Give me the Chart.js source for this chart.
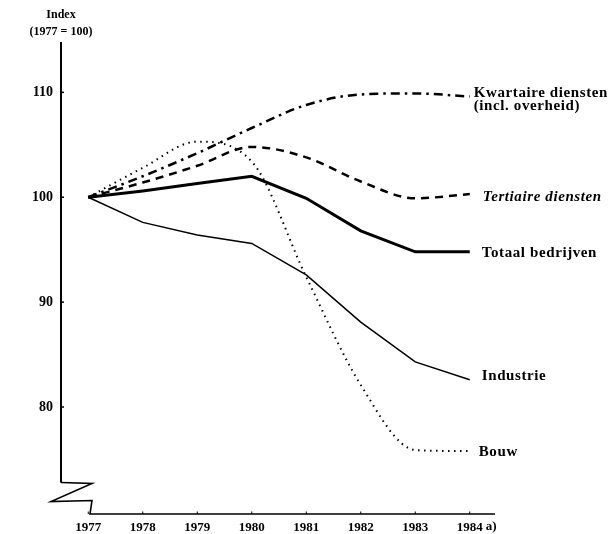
<!DOCTYPE html>
<html>
<head>
<meta charset="utf-8">
<script src="https://cdn.jsdelivr.net/npm/chart.js@4"></script>
<style>
  body { margin: 0; background: #fff; }
  #wrap { width: 613px; height: 534px; }
</style>
</head>
<body>
<div id="wrap"><canvas id="indexChart" width="613" height="534"></canvas></div>
<script>
// Index (1977 = 100) per sector
const years = [1977, 1978, 1979, 1980, 1981, 1982, 1983, 1984];
const yearLabels = ['1977', '1978', '1979', '1980', '1981', '1982', '1983', '1984'];
const yTicks = [80, 90, 100, 110];

const kwartaire = [100, 102.0, 104.2, 106.6, 108.8, 109.8, 109.9, 109.6];
const tertiaire = [100, 101.4, 103.0, 104.8, 103.8, 101.5, 99.9, 100.3];
const totaal = [100, 100.6, 101.3, 102.0, 99.9, 96.8, 94.8, 94.8];
const industrie = [100, 97.6, 96.4, 95.6, 92.6, 88.1, 84.3, 82.6];
const bouw = [100, 102.8, 105.3, 103.4, 92.4, 82.1, 75.9, 75.8];

const seriesNames = [
    ['Kwartaire diensten', '(incl. overheid)'],
    ['Tertiaire diensten'],
    ['Totaal bedrijven'],
    ['Industrie'],
    ['Bouw']
];

const FONT = '"Liberation Serif", "DejaVu Serif", serif';

function toPoints(values) {
    return values.map((v, i) => ({ x: years[i], y: v }));
}

// label placement next to the end of each line
const labelStyle = [
    { dx: 4, dy: -3, italic: false },
    { dx: 13, dy: 3, italic: true },
    { dx: 12, dy: 1, italic: false },
    { dx: 12, dy: -4, italic: false },
    { dx: 9, dy: 1, italic: false }
];

const axisPlugin = {
    id: 'axisPlugin',
    afterDraw(chart) {
        const ctx = chart.ctx;
        const xs = chart.scales.x;
        const ys = chart.scales.y;
        const area = chart.chartArea;
        const left = area.left;
        const bottom = area.bottom;
        const breakTop = ys.getPixelForValue(72.8);

        ctx.save();
        ctx.strokeStyle = '#000';
        ctx.lineJoin = 'miter';

        // y axis with break symbol
        ctx.lineWidth = 2;
        ctx.beginPath();
        ctx.moveTo(left, area.top);
        ctx.lineTo(left, breakTop);
        ctx.stroke();

        ctx.lineWidth = 1.6;
        ctx.beginPath();
        ctx.moveTo(left, breakTop);
        ctx.lineTo(left + 31, breakTop + 1);
        ctx.lineTo(left - 10, breakTop + 19);
        ctx.lineTo(left + 31, breakTop + 18);
        ctx.lineTo(left + 29, bottom);
        ctx.lineTo(area.right - 2, bottom);
        ctx.stroke();

        // y ticks
        ctx.lineWidth = 1.5;
        yTicks.forEach(t => {
            const py = ys.getPixelForValue(t);
            ctx.beginPath();
            ctx.moveTo(left, py);
            ctx.lineTo(left + 3, py);
            ctx.stroke();
        });

        // x ticks
        ctx.lineWidth = 1;
        years.forEach(yr => {
            const px = xs.getPixelForValue(yr);
            ctx.beginPath();
            ctx.moveTo(px, bottom);
            ctx.lineTo(px, bottom - 2.5);
            ctx.stroke();
        });

        // footnote marker after 1984
        ctx.fillStyle = '#000';
        ctx.font = 'bold 13px ' + FONT;
        ctx.textBaseline = 'middle';
        ctx.textAlign = 'left';
        const lastX = xs.getPixelForValue(years[years.length - 1]);
        const w = ctx.measureText(yearLabels[yearLabels.length - 1]).width;
        ctx.fillText('a)', lastX + w / 2 + 3, bottom + 13);

        // axis title
        ctx.textAlign = 'center';
        ctx.font = 'bold 12px ' + FONT;
        ctx.fillText('Index', left, 15);
        ctx.fillText('(1977 = 100)', left, 32);

        // series labels at the line ends
        ctx.letterSpacing = '0.6px';
        chart.data.datasets.forEach((ds, i) => {
            const meta = chart.getDatasetMeta(i);
            const pt = meta.data[meta.data.length - 1];
            const st = labelStyle[i];
            ctx.font = (st.italic ? 'italic ' : '') + 'bold 15px ' + FONT;
            ctx.textAlign = 'left';
            seriesNames[i].forEach((line, j) => {
                ctx.fillText(line, pt.x + st.dx, pt.y + st.dy + j * 13);
            });
        });
        ctx.restore();
    }
};

new Chart(document.getElementById('indexChart'), {
    type: 'line',
    data: {
        datasets: [
            {
                label: seriesNames[0].join(' '),
                data: toPoints(kwartaire),
                borderColor: '#000',
                borderWidth: 2.5,
                borderDash: [9, 5, 2.5, 5],
                cubicInterpolationMode: 'monotone'
            },
            {
                label: seriesNames[1][0],
                data: toPoints(tertiaire),
                borderColor: '#000',
                borderWidth: 2.5,
                borderDash: [8, 6],
                cubicInterpolationMode: 'monotone'
            },
            {
                label: seriesNames[2][0],
                data: toPoints(totaal),
                borderColor: '#000',
                borderWidth: 3,
                tension: 0
            },
            {
                label: seriesNames[3][0],
                data: toPoints(industrie),
                borderColor: '#000',
                borderWidth: 1.5,
                tension: 0
            },
            {
                label: seriesNames[4][0],
                data: toPoints(bouw),
                borderColor: '#000',
                borderWidth: 2,
                borderDash: [1.5, 4.5],
                cubicInterpolationMode: 'monotone'
            }
        ]
    },
    options: {
        responsive: false,
        animation: false,
        layout: { padding: { top: 42, right: 116, left: 0, bottom: 0 } },
        elements: { point: { radius: 0 } },
        plugins: {
            legend: { display: false },
            tooltip: { enabled: false }
        },
        scales: {
            x: {
                type: 'linear',
                min: 1976.5,
                max: 1984.5,
                afterFit: scale => { scale.height = 20; },
                afterBuildTicks: scale => { scale.ticks = years.map(v => ({ value: v })); },
                grid: { display: false, drawTicks: false },
                border: { display: false },
                ticks: {
                    padding: 6,
                    maxRotation: 0,
                    autoSkip: false,
                    color: '#000',
                    font: { family: FONT, size: 13, weight: 'bold' },
                    callback: (v) => yearLabels[years.indexOf(v)]
                }
            },
            y: {
                min: 69.8,
                max: 114.8,
                afterFit: scale => { scale.width = 61; },
                afterBuildTicks: scale => { scale.ticks = yTicks.map(v => ({ value: v })); },
                grid: { display: false, drawTicks: false },
                border: { display: false },
                ticks: {
                    padding: 8,
                    color: '#000',
                    font: { family: FONT, size: 14, weight: 'bold' }
                }
            }
        }
    },
    plugins: [axisPlugin]
});
</script>
</body>
</html>
